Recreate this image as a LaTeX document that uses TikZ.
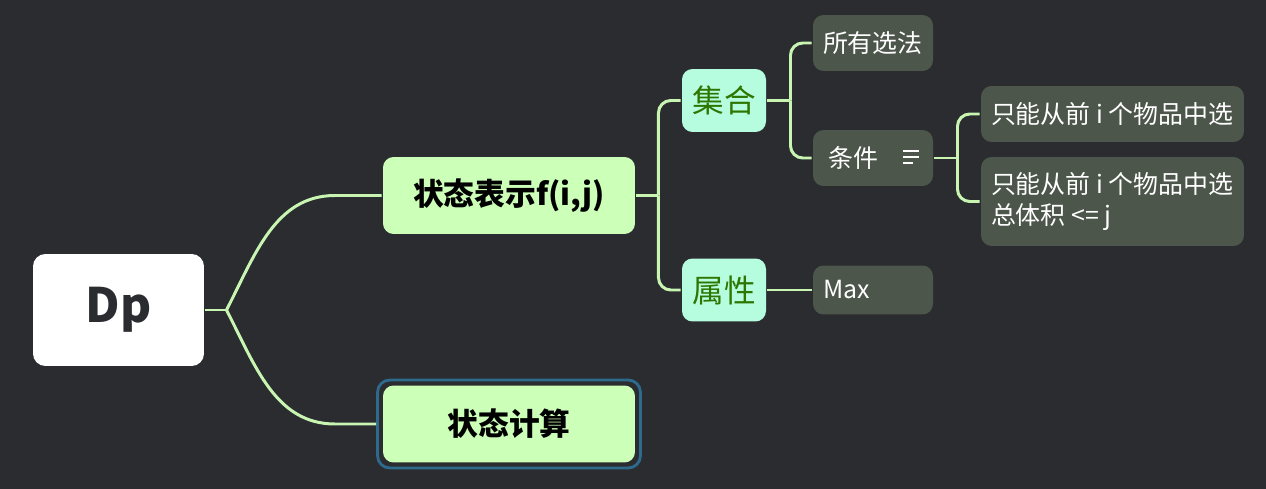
\documentclass[tikz,border=0pt]{standalone}
\usepackage{fontspec}
\setmainfont{Noto Sans CJK SC}
\usepackage{tikz}
\usetikzlibrary{positioning}

\definecolor{bgcol}{RGB}{43,44,48}
\definecolor{linecol}{RGB}{200,246,178}
\definecolor{topfill}{RGB}{204,255,184}
\definecolor{subfill}{RGB}{182,252,222}
\definecolor{subtext}{RGB}{45,118,0}
\definecolor{leaffill}{RGB}{76,86,74}
\definecolor{selcol}{RGB}{46,106,140}
\newcommand{\gap}{\hspace{0.22em}}

\begin{document}
\begin{tikzpicture}[x=0.02cm,y=-0.02cm,line width=1.7pt,
		linecol]
		\tikzstyle{every node}=[inner sep=0pt]
		\tikzstyle{root}=[fill=white,text=bgcol,rounded corners=7pt,minimum width=3.42cm,minimum height=2.24cm,font=\bfseries\fontsize{27}{30}\selectfont]
		\tikzstyle{topic}=[fill=topfill,text=black,rounded corners=6pt,minimum width=5.04cm,minimum height=1.54cm,font=\bfseries\fontsize{17.5}{22}\selectfont]
		\tikzstyle{sub}=[fill=subfill,text=subtext,rounded corners=6pt,minimum width=1.68cm,minimum height=1.26cm,font=\fontsize{18}{22}\selectfont]
		\tikzstyle{leaf}=[fill=leaffill,text=white,rounded corners=6pt,minimum height=1.12cm,inner xsep=0.2cm,align=left,font=\fontsize{14.2}{17.5}\selectfont]
		\fill[bgcol] (0,0) rectangle (1266,489);
		\node[root]  (dp)  at (118.5,310)  {Dp};
		\node[topic] (bsr) at (509,195.5)  {状态表示f(i,j)};
		\node[topic] (bjs) at (509,424)    {状态计算};
		\node[draw=selcol,line width=1.6pt,rounded corners=7pt,minimum width=5.26cm,minimum height=1.76cm] (sel) at (509,424) {};
		\node[sub]   (jh)  at (724,100.5)  {集合};
		\node[sub]   (sx)  at (724,290)    {属性};
		\node[leaf,text width=2.0cm] (syxf) at (873,43) {所有选法};
		\node[leaf,text width=2.0cm] (tj)   at (873,158) {\hspace{3pt}条件};
		\node[leaf,text width=2.0cm,minimum height=0.98cm] (max) at (873,290) {Max};
		\node[leaf,text width=4.86cm] (tj1) at (1112.5,114) {只能从前\gap i\gap 个物品中选};
		\node[leaf,text width=4.86cm,minimum height=1.78cm] (tj2) at (1112.5,201.5) {只能从前\gap i\gap 个物品中选\\总体积\gap <=\gap j};
		% note icon
		\draw[white,line width=0.9pt] (903,151) -- (919,151) (903,157) -- (919,157) (903,163) -- (913,163);
		% connectors
		\coordinate[right=0.42cm of dp]  (j0);
		\coordinate[right=0.44cm of bsr] (j1);
		\coordinate[right=0.46cm of jh]  (j2);
		\coordinate[right=0.46cm of tj]  (j3);
		\draw (dp) -- (j0);
		\draw (j0) .. controls (255,255) and (275,195.5) .. (335,195.5) -- (bsr);
		\draw (j0) .. controls (255,365) and (275,424) .. (335,424) -- (sel);
		\draw (bsr) -- (j1);
		\draw[rounded corners=7pt] (j1) |- (jh);
		\draw[rounded corners=7pt] (j1) |- (sx);
		\draw (jh) -- (j2);
		\draw[rounded corners=7pt] (j2) |- (syxf);
		\draw[rounded corners=7pt] (j2) |- (tj);
		\path (sx) edge (max);
		\draw (tj) -- (j3);
		\draw[rounded corners=7pt] (j3) |- (tj1);
		\draw[rounded corners=7pt] (j3) |- (tj2);
	\end{tikzpicture}
\end{document}
